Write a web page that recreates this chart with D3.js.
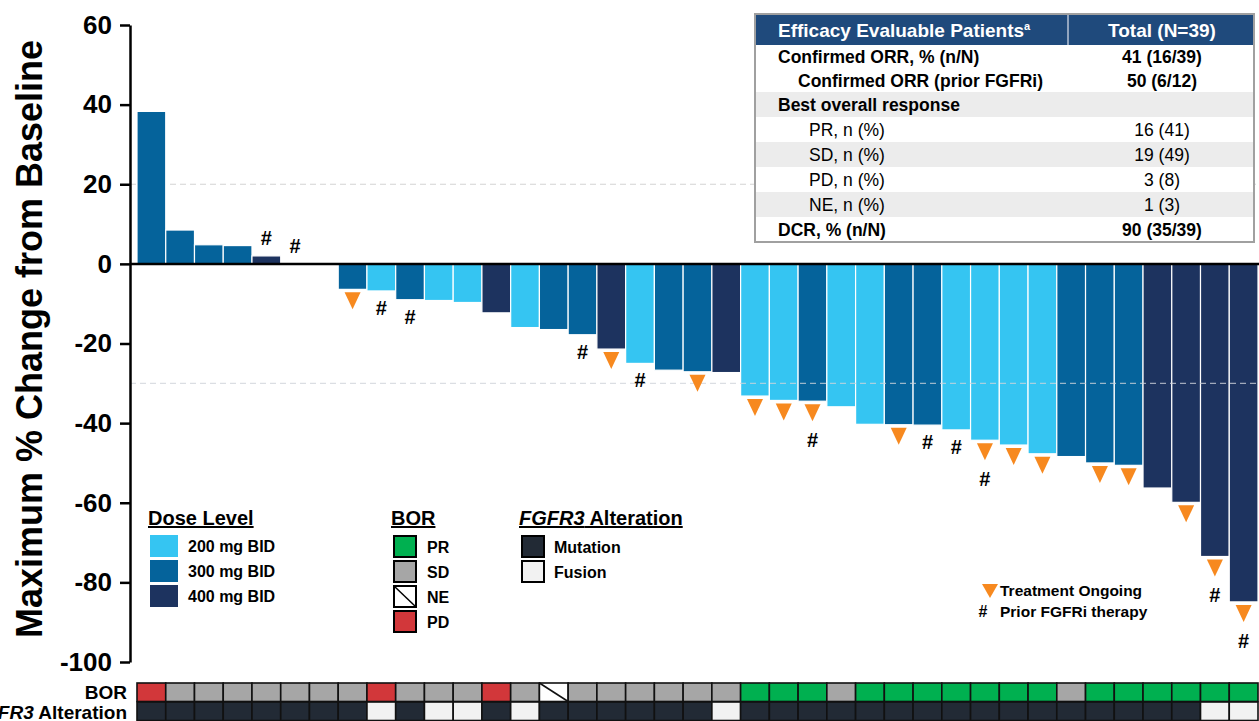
<!DOCTYPE html>
<html>
<head>
<meta charset="utf-8">
<script src="https://cdn.jsdelivr.net/npm/d3@7"></script>
<style>
  html, body { margin: 0; padding: 0; background: #ffffff; }
  svg { display: block; font-family: "Liberation Sans", Arial, Helvetica, sans-serif; }
</style>
</head>
<body>
<svg id="chart" width="1259" height="721"></svg>
<script>
// ---- Data: one entry per efficacy-evaluable patient, ordered as plotted ----
const patients = d3.range(1, 40).map(i => "Pt" + i);

const changeFromBaseline = [
  38.3, 8.5, 4.8, 4.6, 2.0, 0, 0, -6.4, -6.8, -9.0,
  -9.2, -9.7, -12.3, -16.0, -16.5, -17.8, -21.4, -25.0, -26.7, -27.1,
  -27.3, -33.2, -34.3, -34.5, -35.9, -40.3, -40.4, -40.5, -41.7, -44.3,
  -45.5, -47.7, -48.4, -50.0, -50.6, -56.3, -59.9, -73.5, -84.9
];

const doseLevel = [
  "300 mg BID", "300 mg BID", "300 mg BID", "300 mg BID", "400 mg BID", "300 mg BID", "200 mg BID", "300 mg BID", "200 mg BID", "300 mg BID",
  "200 mg BID", "200 mg BID", "400 mg BID", "200 mg BID", "300 mg BID", "300 mg BID", "400 mg BID", "200 mg BID", "300 mg BID", "300 mg BID",
  "400 mg BID", "200 mg BID", "200 mg BID", "300 mg BID", "200 mg BID", "200 mg BID", "300 mg BID", "300 mg BID", "200 mg BID", "200 mg BID",
  "200 mg BID", "200 mg BID", "300 mg BID", "300 mg BID", "300 mg BID", "400 mg BID", "400 mg BID", "400 mg BID", "400 mg BID"
];

const bestResponse = [
  "PD", "SD", "SD", "SD", "SD", "SD", "SD", "SD", "PD", "SD",
  "SD", "SD", "PD", "SD", "NE", "SD", "SD", "SD", "SD", "SD",
  "SD", "PR", "PR", "PR", "SD", "PR", "PR", "PR", "PR", "PR",
  "PR", "PR", "SD", "PR", "PR", "PR", "PR", "PR", "PR"
];

const fgfr3Alteration = [
  "Mutation", "Mutation", "Mutation", "Mutation", "Mutation", "Mutation", "Mutation", "Mutation", "Fusion", "Mutation",
  "Fusion", "Fusion", "Mutation", "Fusion", "Mutation", "Mutation", "Mutation", "Mutation", "Mutation", "Mutation",
  "Fusion", "Mutation", "Mutation", "Mutation", "Mutation", "Mutation", "Mutation", "Mutation", "Mutation", "Mutation",
  "Mutation", "Mutation", "Mutation", "Mutation", "Mutation", "Mutation", "Mutation", "Fusion", "Fusion"
];

const treatmentOngoing = [
  0, 0, 0, 0, 0, 0, 0, 1, 0, 0,
  0, 0, 0, 0, 0, 0, 1, 0, 0, 1,
  0, 1, 1, 1, 0, 0, 1, 0, 0, 1,
  1, 1, 0, 1, 1, 0, 1, 1, 1
];

const priorFGFRi = [
  0, 0, 0, 0, 1, 1, 0, 0, 1, 1,
  0, 0, 0, 0, 0, 1, 0, 1, 0, 0,
  0, 0, 0, 1, 0, 0, 0, 1, 1, 1,
  0, 0, 0, 0, 0, 0, 0, 1, 1
];

const yTicks = [60, 40, 20, 0, -20, -40, -60, -80, -100];
const progressionThreshold = 20;
const responseThreshold = -30;

const doseLevels = ["200 mg BID", "300 mg BID", "400 mg BID"];
const borLevels = ["PR", "SD", "NE", "PD"];
const alterationLevels = ["Mutation", "Fusion"];

const tableHeader = ["Efficacy Evaluable Patients", "Total (N=39)"];
const tableLabels = [
  "Confirmed ORR, % (n/N)", "Confirmed ORR (prior FGFRi)", "Best overall response",
  "PR, n (%)", "SD, n (%)", "PD, n (%)", "NE, n (%)", "DCR, % (n/N)"
];
const tableValues = ["41 (16/39)", "50 (6/12)", "", "16 (41)", "19 (49)", "3 (8)", "1 (3)", "90 (35/39)"];

// ---- Colours ----
const doseColor = d3.scaleOrdinal().domain(doseLevels).range(["#35c5f2", "#05639b", "#1d335f"]);
const borColor = d3.scaleOrdinal().domain(borLevels).range(["#00b050", "#a6a6a6", "#ffffff", "#d2373a"]);
const altColor = d3.scaleOrdinal().domain(alterationLevels).range(["#222a35", "#f2f2f2"]);
const ongoingColor = "#f7891f";

// ---- Scales ----
const svg = d3.select("#chart");
const x = d3.scaleBand().domain(patients).range([137, 1258]).padding(0);
const y = d3.scaleLinear().domain([-100, 60]).range([662, 25]);
const axisX = 130;

// +20% threshold (behind bars)
svg.append("line")
  .attr("x1", axisX).attr("x2", 1259)
  .attr("y1", y(progressionThreshold)).attr("y2", y(progressionThreshold))
  .attr("stroke", "#d4d4d4").attr("stroke-width", 1.2).attr("stroke-dasharray", "6,4");

// ---- Bars ----
svg.append("g").selectAll("rect")
  .data(patients)
  .join("rect")
  .attr("x", d => x(d))
  .attr("width", x.bandwidth())
  .attr("y", (d, i) => y(Math.max(0, changeFromBaseline[i])))
  .attr("height", (d, i) => Math.abs(y(changeFromBaseline[i]) - y(0)))
  .attr("fill", (d, i) => doseColor(doseLevel[i]))
  .attr("stroke", "#ffffff")
  .attr("stroke-width", 1.2);

// -30% threshold (over bars)
svg.append("line")
  .attr("x1", axisX).attr("x2", 1259)
  .attr("y1", y(responseThreshold)).attr("y2", y(responseThreshold))
  .attr("stroke", "#cfd3da").attr("stroke-opacity", 0.75)
  .attr("stroke-width", 1.2).attr("stroke-dasharray", "6,4");

// Zero line
svg.append("line")
  .attr("x1", axisX).attr("x2", 1259)
  .attr("y1", y(0)).attr("y2", y(0))
  .attr("stroke", "#000").attr("stroke-width", 2.5);

// ---- Markers: treatment ongoing (triangle) and prior FGFRi (#) ----
const markerG = svg.append("g");
patients.forEach((p, i) => {
  const v = changeFromBaseline[i];
  const cx = x(p) + x.bandwidth() / 2;
  const edge = y(v);
  if (treatmentOngoing[i]) {
    const top = edge + 3;
    markerG.append("path")
      .attr("d", `M${cx - 8},${top} L${cx + 8},${top} L${cx},${top + 17} Z`)
      .attr("fill", ongoingColor);
  }
  if (priorFGFRi[i]) {
    const cy = v >= 0 ? edge - 17.5 : edge + (treatmentOngoing[i] ? 39 : 17);
    markerG.append("text")
      .attr("x", cx).attr("y", cy)
      .attr("text-anchor", "middle").attr("dominant-baseline", "central")
      .attr("font-size", 20).attr("font-weight", "bold").attr("fill", "#000")
      .text("#");
  }
});

// ---- Y axis (plain hyphen for negative labels) ----
const yAxis = d3.axisLeft(y).tickValues(yTicks).tickFormat(d => String(d))
  .tickSize(10).tickSizeOuter(0).tickPadding(8);
const yAxisG = svg.append("g").attr("transform", `translate(${axisX},0)`).call(yAxis);
yAxisG.select(".domain").attr("stroke", "#000").attr("stroke-width", 2.5);
yAxisG.selectAll(".tick line").attr("stroke", "#000").attr("stroke-width", 2.5);
yAxisG.selectAll(".tick text")
  .attr("font-family", "Liberation Sans, Arial, sans-serif")
  .attr("font-size", 26).attr("font-weight", "bold").attr("fill", "#000");

svg.append("text")
  .attr("transform", `translate(42,339) rotate(-90)`)
  .attr("text-anchor", "middle")
  .attr("font-size", 36).attr("font-weight", "bold").attr("fill", "#000")
  .text("Maximum % Change from Baseline");

// ---- Annotation rows: BOR and FGFR3 alteration ----
const rowBorY = 683, rowAltY = 702, rowH = 18.5;
const gridG = svg.append("g");
gridG.selectAll("rect.bor")
  .data(patients)
  .join("rect")
  .attr("class", "bor")
  .attr("x", d => x(d)).attr("y", rowBorY)
  .attr("width", x.bandwidth()).attr("height", rowH)
  .attr("fill", (d, i) => borColor(bestResponse[i]))
  .attr("stroke", "#111").attr("stroke-width", 1.6);
gridG.selectAll("line.ne")
  .data(patients.filter((d, i) => bestResponse[i] === "NE"))
  .join("line")
  .attr("class", "ne")
  .attr("x1", d => x(d)).attr("y1", rowBorY)
  .attr("x2", d => x(d) + x.bandwidth()).attr("y2", rowBorY + rowH)
  .attr("stroke", "#111").attr("stroke-width", 1.6);
gridG.selectAll("rect.alt")
  .data(patients)
  .join("rect")
  .attr("class", "alt")
  .attr("x", d => x(d)).attr("y", rowAltY)
  .attr("width", x.bandwidth()).attr("height", rowH)
  .attr("fill", (d, i) => altColor(fgfr3Alteration[i]))
  .attr("stroke", "#111").attr("stroke-width", 1.6);

svg.append("text")
  .attr("x", 127).attr("y", rowBorY + rowH / 2)
  .attr("text-anchor", "end").attr("dominant-baseline", "central")
  .attr("font-size", 19).attr("font-weight", "bold").text("BOR");
const altLabel = svg.append("text")
  .attr("x", 127).attr("y", rowAltY + rowH / 2 + 1)
  .attr("text-anchor", "end").attr("dominant-baseline", "central")
  .attr("font-size", 19).attr("font-weight", "bold");
altLabel.append("tspan").attr("font-style", "italic").text("FGFR3");
altLabel.append("tspan").text(" Alteration");

// ---- Legends ----
const legendTitle = (lx, ly) => svg.append("text")
  .attr("x", lx).attr("y", ly)
  .attr("font-size", 20).attr("font-weight", "bold")
  .attr("text-decoration", "underline");

legendTitle(148, 525).text("Dose Level");
const doseLeg = svg.append("g").selectAll("g").data(doseLevels).join("g")
  .attr("transform", (d, i) => `translate(150,${535 + i * 25})`);
doseLeg.append("rect").attr("width", 28).attr("height", 22).attr("fill", d => doseColor(d));
doseLeg.append("text").attr("x", 38).attr("y", 11).attr("dominant-baseline", "central")
  .attr("font-size", 16).attr("font-weight", "bold").text(d => d);

legendTitle(391, 525).text("BOR");
const borLeg = svg.append("g").selectAll("g").data(borLevels).join("g")
  .attr("transform", (d, i) => `translate(394,${536 + i * 25})`);
borLeg.append("rect").attr("width", 22).attr("height", 21)
  .attr("fill", d => borColor(d)).attr("stroke", "#000").attr("stroke-width", 2);
borLeg.filter(d => d === "NE").append("line")
  .attr("x1", 0).attr("y1", 0).attr("x2", 22).attr("y2", 21)
  .attr("stroke", "#000").attr("stroke-width", 1.5);
borLeg.append("text").attr("x", 33).attr("y", 11).attr("dominant-baseline", "central")
  .attr("font-size", 16).attr("font-weight", "bold").text(d => d);

const altTitle = legendTitle(519, 525);
altTitle.append("tspan").attr("font-style", "italic").text("FGFR3");
altTitle.append("tspan").text(" Alteration");
const altLeg = svg.append("g").selectAll("g").data(alterationLevels).join("g")
  .attr("transform", (d, i) => `translate(522,${536 + i * 25})`);
altLeg.append("rect").attr("width", 22).attr("height", 21)
  .attr("fill", d => altColor(d)).attr("stroke", "#000").attr("stroke-width", 2);
altLeg.append("text").attr("x", 32).attr("y", 11).attr("dominant-baseline", "central")
  .attr("font-size", 16).attr("font-weight", "bold").text(d => d);

// Marker key
svg.append("path")
  .attr("d", "M982,584 L998,584 L990,598 Z").attr("fill", ongoingColor);
svg.append("text").attr("x", 1000).attr("y", 596)
  .attr("font-size", 15.5).attr("font-weight", "bold").text("Treatment Ongoing");
svg.append("text").attr("x", 983).attr("y", 617).attr("text-anchor", "middle")
  .attr("font-size", 16).attr("font-weight", "bold").text("#");
svg.append("text").attr("x", 1000).attr("y", 617)
  .attr("font-size", 15.5).attr("font-weight", "bold").text("Prior FGFRi therapy");

// ---- Summary table ----
const tX0 = 755, tX1 = 1254, tDiv = 1068, tTop = 14, headH = 31;
const rowTops = [45, 69, 92, 117, 142, 167, 192, 217, 242];
const shaded = [false, false, true, false, true, false, true, false];
const boldRow = [true, true, true, false, false, false, false, true];
const indent = [778, 798, 778, 809, 809, 809, 809, 778];
const tableG = svg.append("g");

tableG.append("rect").attr("x", tX0).attr("y", tTop)
  .attr("width", tX1 - tX0).attr("height", rowTops[8] - tTop).attr("fill", "#fff");
tableG.selectAll("rect.band")
  .data(tableLabels)
  .join("rect").attr("class", "band")
  .attr("x", tX0).attr("y", (d, i) => rowTops[i])
  .attr("width", tX1 - tX0).attr("height", (d, i) => rowTops[i + 1] - rowTops[i])
  .attr("fill", (d, i) => shaded[i] ? "#ececec" : "#ffffff");
tableG.append("rect").attr("x", tX0).attr("y", tTop)
  .attr("width", tX1 - tX0).attr("height", headH).attr("fill", "#1f4a7c");
tableG.append("line").attr("x1", tDiv).attr("x2", tDiv).attr("y1", tTop).attr("y2", tTop + headH)
  .attr("stroke", "#b8c4d6").attr("stroke-width", 1.5);

const head = tableG.append("text").attr("x", 778).attr("y", tTop + 23)
  .attr("font-size", 19).attr("font-weight", "bold").attr("fill", "#fff");
head.append("tspan").text(tableHeader[0]);
head.append("tspan").attr("font-size", 11).attr("dy", -7).text("a");
tableG.append("text").attr("x", 1162).attr("y", tTop + 23).attr("text-anchor", "middle")
  .attr("font-size", 19).attr("font-weight", "bold").attr("fill", "#fff").text(tableHeader[1]);

tableG.selectAll("text.lab")
  .data(tableLabels)
  .join("text").attr("class", "lab")
  .attr("x", (d, i) => indent[i])
  .attr("y", (d, i) => (rowTops[i] + rowTops[i + 1]) / 2 + 6)
  .attr("font-size", 17.5).attr("font-weight", (d, i) => boldRow[i] ? "bold" : "normal")
  .attr("fill", "#000").text(d => d);
tableG.selectAll("text.val")
  .data(tableValues)
  .join("text").attr("class", "val")
  .attr("x", 1162).attr("text-anchor", "middle")
  .attr("y", (d, i) => (rowTops[i] + rowTops[i + 1]) / 2 + 6)
  .attr("font-size", 17.5).attr("font-weight", (d, i) => boldRow[i] ? "bold" : "normal")
  .attr("fill", "#000").text(d => d);

tableG.append("rect").attr("x", tX0).attr("y", tTop)
  .attr("width", tX1 - tX0).attr("height", rowTops[8] - tTop)
  .attr("fill", "none").attr("stroke", "#a0a0a0").attr("stroke-width", 2);
</script>
</body>
</html>
